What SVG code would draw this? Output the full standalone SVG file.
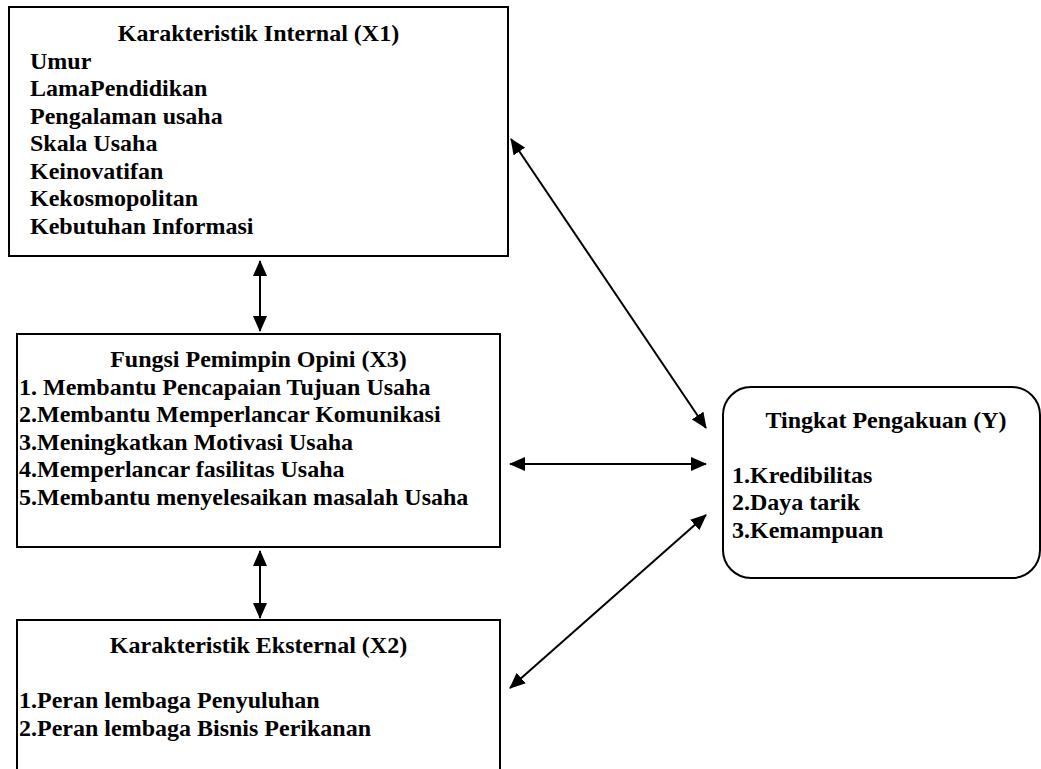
<svg xmlns="http://www.w3.org/2000/svg" width="1041" height="769" viewBox="0 0 1041 769">
<style>
.box{fill:#fff;stroke:#000;stroke-width:2}
.t{font-family:'Liberation Serif',serif;font-weight:bold;font-size:24px;fill:#000}
.c{text-anchor:middle}
.ln{stroke:#000;stroke-width:2;fill:none;marker-start:url(#ah);marker-end:url(#ah)}
</style>
<defs>
<marker id="ah" viewBox="0 0 16 14" refX="15" refY="7" markerWidth="16" markerHeight="14" markerUnits="userSpaceOnUse" orient="auto-start-reverse">
<path d="M0,0 L16,7 L0,14 Z" fill="#000"/>
</marker>
</defs>
<rect width="1041" height="769" fill="#fff"/>
<g id="x1">
<rect class="box" x="9" y="7" width="499" height="249"/>
<text class="t c" x="258.5" y="41">Karakteristik Internal (X1)</text>
<text class="t" x="30" y="68.5">Umur</text>
<text class="t" x="30" y="96">LamaPendidikan</text>
<text class="t" x="30" y="123.5">Pengalaman usaha</text>
<text class="t" x="30" y="151">Skala Usaha</text>
<text class="t" x="30" y="178.5">Keinovatifan</text>
<text class="t" x="30" y="206">Kekosmopolitan</text>
<text class="t" x="30" y="233.5">Kebutuhan Informasi</text>
</g>
<g id="x3">
<rect class="box" x="17" y="334" width="483" height="213"/>
<text class="t c" x="258.5" y="367">Fungsi Pemimpin Opini (X3)</text>
<text class="t" x="19" y="394.5">1. Membantu Pencapaian Tujuan Usaha</text>
<text class="t" x="19" y="422">2.Membantu Memperlancar Komunikasi</text>
<text class="t" x="19" y="449.5">3.Meningkatkan Motivasi Usaha</text>
<text class="t" x="19" y="477">4.Memperlancar fasilitas Usaha</text>
<text class="t" x="19" y="504.5">5.Membantu menyelesaikan masalah Usaha</text>
</g>
<g id="x2">
<rect class="box" x="17" y="620" width="483" height="170"/>
<text class="t c" x="258.5" y="653">Karakteristik Eksternal (X2)</text>
<text class="t" x="19" y="708">1.Peran lembaga Penyuluhan</text>
<text class="t" x="19" y="735.5">2.Peran lembaga Bisnis Perikanan</text>
</g>
<g id="y">
<rect class="box" x="723" y="387" width="317" height="191" rx="28" ry="28"/>
<text class="t c" x="886" y="427.5">Tingkat Pengakuan (Y)</text>
<text class="t" x="732" y="482.5">1.Kredibilitas</text>
<text class="t" x="732" y="510">2.Daya tarik</text>
<text class="t" x="732" y="537.5">3.Kemampuan</text>
</g>
<g id="connectors">
<line class="ln" x1="260" y1="261" x2="260" y2="331"/>
<line class="ln" x1="260" y1="551" x2="260" y2="618"/>
<line class="ln" x1="511" y1="139" x2="706" y2="428"/>
<line class="ln" x1="510" y1="464" x2="706" y2="464"/>
<line class="ln" x1="510" y1="688" x2="706" y2="515"/>
</g>
</svg>
